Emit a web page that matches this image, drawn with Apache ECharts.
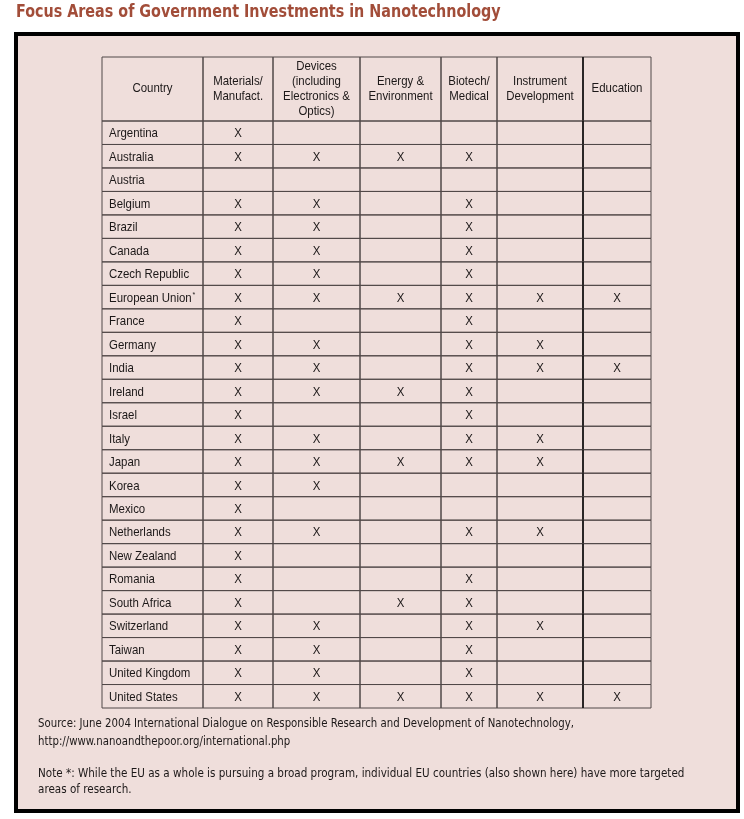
<!DOCTYPE html>
<html>
<head>
    <meta charset="utf-8">
    <title>Focus Areas of Government Investments in Nanotechnology</title>
    <script src="https://cdn.jsdelivr.net/npm/echarts@6/dist/echarts.min.js"></script>
    <style>
        html, body { margin: 0; padding: 0; background: #fff; }
        #main { width: 744px; height: 819px; }
    </style>
</head>
<body>
<div id="main"></div>
<script type="text/javascript">
    // table data
    var countries = ['Argentina', 'Australia', 'Austria', 'Belgium', 'Brazil', 'Canada', 'Czech Republic',
        'European Union*', 'France', 'Germany', 'India', 'Ireland', 'Israel', 'Italy', 'Japan', 'Korea',
        'Mexico', 'Netherlands', 'New Zealand', 'Romania', 'South Africa', 'Switzerland', 'Taiwan',
        'United Kingdom', 'United States'];
    var headers = ['Country', 'Materials/\nManufact.', 'Devices\n(including\nElectronics &\nOptics)',
        'Energy &\nEnvironment', 'Biotech/\nMedical', 'Instrument\nDevelopment', 'Education'];
    var materials  = [1,1,0,1,1,1,1,1,1,1,1,1,1,1,1,1,1,1,1,1,1,1,1,1,1];
    var devices    = [0,1,0,1,1,1,1,1,0,1,1,1,0,1,1,1,0,1,0,0,0,1,1,1,1];
    var energy     = [0,1,0,0,0,0,0,1,0,0,0,1,0,0,1,0,0,0,0,0,1,0,0,0,1];
    var biotech    = [0,1,0,1,1,1,1,1,1,1,1,1,1,1,1,0,0,1,0,1,1,1,1,1,1];
    var instrument = [0,0,0,0,0,0,0,1,0,1,1,0,0,1,1,0,0,1,0,0,0,1,0,0,1];
    var education  = [0,0,0,0,0,0,0,1,0,0,1,0,0,0,0,0,0,0,0,0,0,0,0,0,1];

    var titleText = 'Focus Areas of Government Investments in Nanotechnology';
    var notes = [
        'Source: June 2004 International Dialogue on Responsible Research and Development of Nanotechnology,',
        'http://www.nanoandthepoor.org/international.php',
        'Note *: While the EU as a whole is pursuing a broad program, individual EU countries (also shown here) have more targeted',
        'areas of research.'
    ];

    // column edges in px from table left
    var colEdges = [0, 101, 171, 258, 339, 395, 481, 549];
    var noteY = [724, 742, 774, 790];
    var noteScale = [0.87, 0.87, 0.89, 0.89];
    var tableFont = '13px "Liberation Sans", Arial, sans-serif';
    var noteFont = '13px "DejaVu Sans Condensed", "DejaVu Sans", sans-serif';
    var squeeze = 0.88;
    var ink = '#1c1818';
    var lineColor = '#514848';

    var focus = [materials, devices, energy, biotech, instrument, education];
    var bodyData = [];
    for (var r = 0; r < countries.length; r++) {
        for (var c = 0; c < headers.length; c++) {
            bodyData.push([c, r, c === 0 ? 0 : focus[c - 1][r]]);
        }
    }
    var headData = [];
    for (var k = 0; k < headers.length; k++) {
        headData.push([k, 0]);
    }

    function cellRect(api, c, r) {
        var x0 = api.coord([colEdges[c], r])[0];
        var x1 = api.coord([colEdges[c + 1], r])[0];
        var cy = api.coord([0, r])[1];
        var h = api.size([0, 1])[1];
        return {x: x0, y: cy - h / 2, width: x1 - x0, height: h};
    }

    function cellShapes(rect, c) {
        var out = [{type: 'rect', shape: rect, style: {fill: 'none', stroke: lineColor, lineWidth: 1}}];
        if (c === 6) {
            out.push({
                type: 'line',
                shape: {x1: rect.x, y1: rect.y, x2: rect.x, y2: rect.y + rect.height},
                style: {stroke: '#000', lineWidth: 1.3}
            });
        }
        return out;
    }

    var graphics = [
        {
            type: 'rect',
            z: -10,
            shape: {x: 16, y: 34, width: 722, height: 777},
            style: {fill: '#efdedb', stroke: '#000', lineWidth: 4}
        },
        {
            type: 'text',
            x: 16,
            y: 12,
            scaleX: 0.885,
            style: {
                text: titleText,
                font: 'bold 18px "DejaVu Sans Condensed", "DejaVu Sans", sans-serif',
                fill: '#a24d39',
                verticalAlign: 'middle'
            }
        }
    ];
    for (var n = 0; n < notes.length; n++) {
        graphics.push({
            type: 'text',
            x: 38,
            y: noteY[n],
            scaleX: noteScale[n],
            style: {text: notes[n], font: noteFont, fill: ink, verticalAlign: 'middle'}
        });
    }

    var myChart = echarts.init(document.getElementById('main'));
    var option = {
        backgroundColor: '#fff',
        animation: false,
        graphic: graphics,
        grid: [
            {left: 102, top: 57, width: 549, height: 64},
            {left: 102, top: 121, width: 549, height: 587}
        ],
        xAxis: [
            {gridIndex: 0, type: 'value', min: 0, max: 549, show: false},
            {gridIndex: 1, type: 'value', min: 0, max: 549, show: false}
        ],
        yAxis: [
            {gridIndex: 0, type: 'category', data: ['head'], show: false},
            {gridIndex: 1, type: 'category', inverse: true, data: countries, show: false}
        ],
        series: [
            {
                type: 'custom',
                xAxisIndex: 0,
                yAxisIndex: 0,
                z: 3,
                data: headData,
                renderItem: function (params, api) {
                    var c = api.value(0);
                    var rect = cellRect(api, c, 0);
                    var children = cellShapes(rect, c);
                    children.push({
                        type: 'text',
                        x: rect.x + rect.width / 2,
                        y: rect.y + rect.height / 2 - 0.5,
                        scaleX: squeeze,
                        style: {
                            text: headers[c],
                            align: 'center',
                            verticalAlign: 'middle',
                            font: tableFont,
                            lineHeight: 15,
                            fill: ink
                        }
                    });
                    return {type: 'group', children: children};
                }
            },
            {
                type: 'custom',
                xAxisIndex: 1,
                yAxisIndex: 1,
                z: 3,
                data: bodyData,
                renderItem: function (params, api) {
                    var c = api.value(0);
                    var r = api.value(1);
                    var rect = cellRect(api, c, r);
                    var children = cellShapes(rect, c);
                    var cy = rect.y + rect.height / 2 + 1;
                    if (c === 0) {
                        var name = countries[r];
                        if (name.charAt(name.length - 1) === '*') {
                            name = name.slice(0, -1) + '{sup|*}';
                        }
                        children.push({
                            type: 'text',
                            x: rect.x + 7,
                            y: cy,
                            scaleX: squeeze,
                            style: {
                                text: name,
                                align: 'left',
                                verticalAlign: 'middle',
                                font: tableFont,
                                fill: ink,
                                rich: {
                                    sup: {font: '8px "Liberation Sans", Arial, sans-serif', fill: ink, verticalAlign: 'top', padding: [0, 0, 7, 1]}
                                }
                            }
                        });
                    } else if (api.value(2)) {
                        children.push({
                            type: 'text',
                            x: rect.x + rect.width / 2,
                            y: cy,
                            scaleX: squeeze,
                            style: {
                                text: 'X',
                                align: 'center',
                                verticalAlign: 'middle',
                                font: tableFont,
                                fill: ink
                            }
                        });
                    }
                    return {type: 'group', children: children};
                }
            }
        ]
    };
    myChart.setOption(option);
</script>
</body>
</html>
